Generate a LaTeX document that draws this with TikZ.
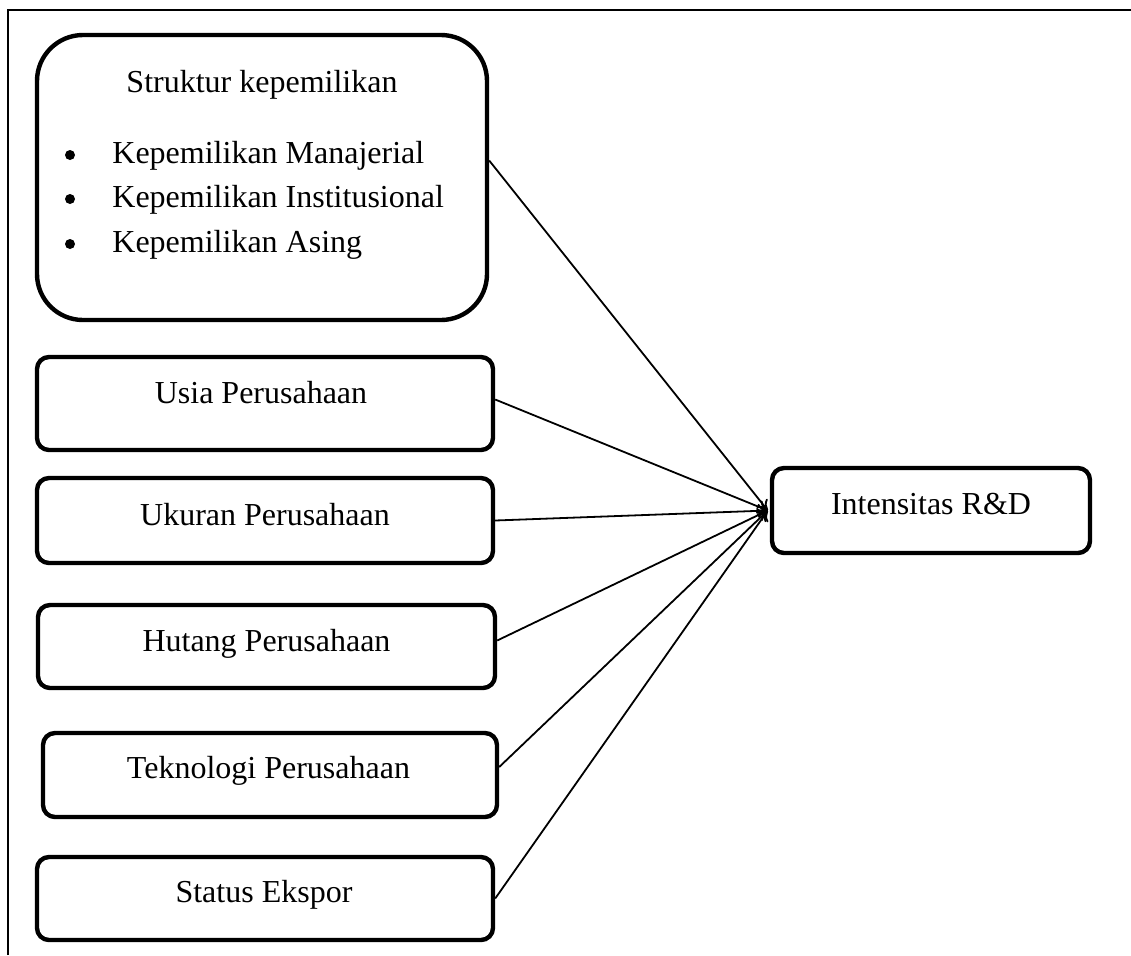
\documentclass[tikz,border=0pt]{standalone}
\usepackage{fontspec}
\setmainfont{Liberation Serif}
\usetikzlibrary{arrows.meta}
\begin{document}
\begin{tikzpicture}[x=0.5pt,y=-0.5pt,
  box/.style={draw, line width=2.2pt, rounded corners=6pt, inner sep=0pt},
  bigbox/.style={draw, line width=2.2pt, rounded corners=23pt, inner sep=0pt},
  lbl/.style={anchor=base, inner sep=0pt, font=\fontsize{16}{19}\selectfont},
  blt/.style={anchor=base west, inner sep=0pt, font=\fontsize{16}{19}\selectfont},
  dot/.style={circle, fill, inner sep=0pt, minimum size=5pt},
  conn/.style={line width=0.9pt, -{To[length=5pt,width=7pt]}},
  frame/.style={line width=0.9pt}]
\useasboundingbox (0,0) rectangle (1131,955);
% outer frame (top and left only)
\coordinate (fa) at (8,955);
\coordinate (fb) at (8,10);
\coordinate (fc) at (1131,10);
\draw[frame] (fa) -- (fb) -- (fc);
% boxes
\node[bigbox, minimum width=225pt, minimum height=142.5pt] (own) at (262,177.5) {};
\node[box, minimum width=228pt, minimum height=46.5pt] (usia) at (265,403.5) {};
\node[box, minimum width=228pt, minimum height=42.5pt] (ukuran) at (265,520.5) {};
\node[box, minimum width=228.5pt, minimum height=41.5pt] (hutang) at (266.5,646.5) {};
\node[box, minimum width=227pt, minimum height=42pt] (tek) at (270,775) {};
\node[box, minimum width=228pt, minimum height=41.5pt] (status) at (265,898.5) {};
\node[box, minimum width=159pt, minimum height=42.5pt] (rd) at (931,510.5) {};
% texts
\node[lbl] (t0) at (262,92) {Struktur kepemilikan};
\node[dot] (b1) at (70,155) {};
\node[dot] (b2) at (70,199) {};
\node[dot] (b3) at (70,244) {};
\node[blt] (i1) at (112,163) {Kepemilikan Manajerial};
\node[blt] (i2) at (112,207) {Kepemilikan Institusional};
\node[blt] (i3) at (112,252) {Kepemilikan Asing};
\node[lbl] (t1) at (261,403) {Usia Perusahaan};
\node[lbl] (t2) at (265,525) {Ukuran Perusahaan};
\node[lbl] (t3) at (266.5,651) {Hutang Perusahaan};
\node[lbl] (t4) at (268.5,778) {Teknologi Perusahaan};
\node[lbl] (t5) at (264,902) {Status Ekspor};
\node[lbl] (t6) at (931,514) {Intensitas R\&D};
% connectors
\coordinate (ownout) at ([yshift=8.5pt]own.east);
\coordinate (tip) at ([xshift=-1pt]rd.west);
\draw[conn] (ownout) -- (tip);
\draw[conn] ([yshift=2pt]usia.east) -- (tip);
\draw[conn] (ukuran.east) -- (tip);
\draw[conn] ([yshift=3pt]hutang.east) -- (tip);
\draw[conn] ([yshift=4pt]tek.east) -- (tip);
\draw[conn] (status.east) -- (tip);
\end{tikzpicture}
\end{document}
